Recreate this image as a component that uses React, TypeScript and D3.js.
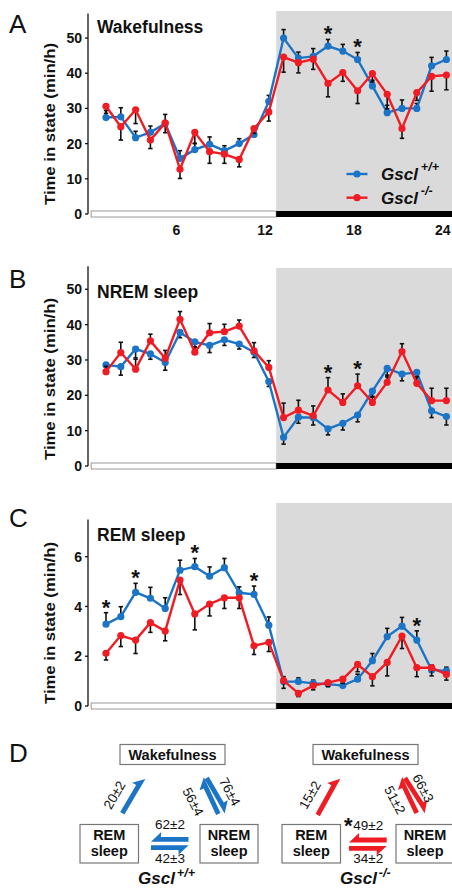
import React from 'react';
import * as d3 from 'd3';

// hour of day (ZT) for each sample
const hours = [1, 2, 3, 4, 5, 6, 7, 8, 9, 10, 11, 12, 13, 14, 15, 16, 17, 18, 19, 20, 21, 22, 23, 24];
const xTickLabels = [6, 12, 18, 24];

// A - Wakefulness (min/h)
const wakeWT = [27.4, 27.6, 21.7, 23.2, 25.7, 15.8, 18.3, 19.8, 18.0, 20.0, 22.6, 32.0, 50.0, 44.3, 44.8, 47.7, 46.3, 43.9, 36.4, 28.8, 30.0, 30.0, 42.1, 43.9];
const wakeWTErr = [2.0, 2.6, 1.8, 1.8, 2.6, 2.2, 1.7, 2.1, 1.4, 1.4, 1.2, 1.7, 2.4, 1.7, 2.2, 1.9, 1.9, 2.0, 1.6, 2.1, 2.4, 1.4, 2.4, 2.4];
const wakeKO = [30.6, 24.8, 29.6, 21.0, 25.9, 12.7, 23.2, 17.7, 17.0, 15.5, 24.3, 29.0, 44.6, 43.0, 44.0, 37.1, 40.2, 35.0, 39.9, 34.0, 24.3, 34.5, 39.1, 39.5];
const wakeKOErr = [2.0, 3.8, 3.9, 2.4, 2.8, 2.6, 3.1, 3.3, 2.6, 2.1, 1.4, 2.6, 4.3, 2.9, 2.9, 3.8, 2.5, 3.6, 2.4, 4.1, 2.8, 2.2, 4.2, 4.2];
const wakeStars = [16, 18];

// B - NREM sleep (min/h)
const nremWT = [28.6, 28.1, 33.1, 31.7, 29.3, 37.8, 35.1, 34.1, 35.7, 34.5, 32.2, 23.9, 8.1, 13.8, 13.7, 10.5, 12.1, 14.4, 21.2, 27.6, 26.0, 26.5, 15.6, 14.0];
const nremWTErr = [1.5, 2.4, 2.5, 1.5, 2.2, 1.5, 1.5, 2.0, 1.6, 1.4, 1.5, 1.4, 1.9, 1.7, 2.1, 1.7, 1.9, 1.9, 1.5, 2.4, 1.9, 1.5, 1.9, 2.4];
const nremKO = [26.7, 32.1, 27.4, 35.4, 30.5, 41.5, 32.2, 37.7, 38.0, 39.6, 32.6, 27.9, 13.7, 15.8, 14.2, 21.5, 18.0, 22.7, 18.0, 23.7, 32.4, 23.4, 18.5, 18.5];
const nremKOErr = [1.5, 2.9, 2.8, 1.9, 2.2, 2.2, 1.5, 2.6, 2.1, 1.7, 2.3, 1.9, 4.1, 2.8, 2.8, 3.5, 2.4, 3.3, 1.5, 2.0, 2.2, 1.9, 3.5, 3.5];
const nremStars = [16, 18];

// C - REM sleep (min/h)
const remWT = [3.29, 3.59, 4.57, 4.33, 3.92, 5.46, 5.60, 5.22, 5.56, 4.55, 4.49, 3.25, 0.98, 0.98, 0.91, 0.88, 0.82, 1.08, 1.82, 2.79, 3.21, 2.65, 1.45, 1.41];
const remWTErr = [0.46, 0.40, 0.36, 0.44, 0.43, 0.40, 0.33, 0.37, 0.37, 0.24, 0.33, 0.33, 0.2, 0.15, 0.13, 0.1, 0.1, 0.2, 0.29, 0.33, 0.35, 0.37, 0.2, 0.15];
const remKO = [2.12, 2.83, 2.65, 3.35, 3.01, 5.06, 3.70, 4.10, 4.35, 4.35, 2.42, 2.56, 1.02, 0.51, 0.82, 0.94, 1.08, 1.67, 1.18, 1.75, 2.81, 1.54, 1.54, 1.27];
const remKOErr = [0.27, 0.44, 0.54, 0.39, 0.39, 0.58, 0.64, 0.48, 0.43, 0.43, 0.35, 0.37, 0.31, 0.13, 0.17, 0.16, 0.17, 0.29, 0.37, 0.54, 0.50, 0.36, 0.33, 0.23];
const remStars = [1, 3, 7, 11, 22];

// D - transitions
const transWT = ['20±2', '56±4', '76±4', '62±2', '42±3'];
const transKO = ['15±2', '51±2', '66±3', '49±2', '34±2'];

const W = 452, H = 888;
const BLUE = '#1b74c6';
const RED = '#f01c24';
const FONT = 'Liberation Sans, Arial, Helvetica, sans-serif';

const x = d3.scaleLinear().domain([0, 24.5]).range([91.2, 453.8]);
const AXIS_X = 88;

const panels = [
  { letter: 'A', title: 'Wakefulness', wt: wakeWT, wtErr: wakeWTErr, ko: wakeKO, koErr: wakeKOErr, wtDir: 1, koDir: -1,
    yMax: 57, ticks: [0, 10, 20, 30, 40, 50], bottom: 214, top: 13.4, shadeTop: 11, letterY: 33, titleY: 33, labelY: 124, stars: wakeStars, legend: true },
  { letter: 'B', title: 'NREM sleep', wt: nremWT, wtErr: nremWTErr, ko: nremKO, koErr: nremKOErr, wtDir: -1, koDir: 1,
    yMax: 56.5, ticks: [0, 10, 20, 30, 40, 50], bottom: 466, top: 266.3, shadeTop: 268, letterY: 288, titleY: 298, labelY: 379, stars: nremStars, legend: false },
  { letter: 'C', title: 'REM sleep', wt: remWT, wtErr: remWTErr, ko: remKO, koErr: remKOErr, wtDir: 1, koDir: -1,
    yMax: 7.5, ticks: [0, 2, 4, 6], bottom: 706, top: 519.4, shadeTop: 503, letterY: 527, titleY: 541, labelY: 623, stars: remStars, legend: false },
];

function Series({ vals, errs, dir, color, y }: any) {
  const line = d3.line<number>().x((_, i) => x(hours[i])).y(d => y(d));
  return (
    <g>
      {vals.map((v: number, i: number) => {
        const cx = x(hours[i]);
        const ye = y(v + dir * errs[i]);
        return (
          <g key={i} stroke="#111" strokeWidth={1.6}>
            <line x1={cx} x2={cx} y1={y(v)} y2={ye} />
            <line x1={cx - 2.2} x2={cx + 2.2} y1={ye} y2={ye} />
          </g>
        );
      })}
      <path d={line(vals) || ''} fill="none" stroke={color} strokeWidth={2.4} />
      {vals.map((v: number, i: number) => (
        <circle key={i} cx={x(hours[i])} cy={y(v)} r={3.6} fill={color} />
      ))}
    </g>
  );
}

function Panel({ p }: any) {
  const y = d3.scaleLinear().domain([0, p.yMax]).range([p.bottom, p.top]);
  const x12 = x(12.5);
  return (
    <g>
      <rect x={x12} y={p.shadeTop} width={W - x12} height={p.bottom - 3 - p.shadeTop} fill="#dadada" />
      <rect x={x(0)} y={p.bottom - 3} width={x12 - x(0)} height={6} fill="#fff" stroke="#9a9a9a" strokeWidth={1} />
      <rect x={x12} y={p.bottom - 3} width={W - x12} height={6} fill="#000" />
      <line x1={AXIS_X} x2={AXIS_X} y1={y(p.yMax)} y2={p.bottom} stroke="#111" strokeWidth={1.3} />
      {p.ticks.map((t: number) => (
        <g key={t}>
          <line x1={AXIS_X - 3} x2={AXIS_X} y1={y(t)} y2={y(t)} stroke="#111" strokeWidth={1.3} />
          <text x={AXIS_X - 6} y={y(t)} dy="0.36em" textAnchor="end" fontSize={14} fontWeight="bold" fill="#111">{t}</text>
        </g>
      ))}
      <text transform={`translate(55,${p.labelY}) rotate(-90)`} textAnchor="middle" fontSize={15} fontWeight="bold" fill="#111"
        textLength={162} lengthAdjust="spacingAndGlyphs">Time in state (min/h)</text>
      <text x={9} y={p.letterY} fontSize={26} fill="#111">{p.letter}</text>
      <text x={97} y={p.titleY} fontSize={17.5} fontWeight="bold" fill="#111">{p.title}</text>
      <Series vals={p.wt} errs={p.wtErr} dir={p.wtDir} color={BLUE} y={y} />
      <Series vals={p.ko} errs={p.koErr} dir={p.koDir} color={RED} y={y} />
      {p.stars.map((h: number) => {
        const i = hours.indexOf(h);
        const topV = Math.max(p.wt[i] + (p.wtDir > 0 ? p.wtErr[i] : 0), p.ko[i] + (p.koDir > 0 ? p.koErr[i] : 0));
        return <text key={h} x={x(h)} y={y(topV) + 2} textAnchor="middle" fontSize={22} fontWeight="bold" fill="#111">*</text>;
      })}
      {p.legend && (
        <g>
          {[{ c: BLUE, sup: '+/+', ly: 174 }, { c: RED, sup: '-/-', ly: 197.7 }].map(l => (
            <g key={l.sup}>
              <line x1={346.5} x2={367.5} y1={l.ly} y2={l.ly} stroke={l.c} strokeWidth={2.4} />
              <circle cx={357} cy={l.ly} r={3.6} fill={l.c} />
              <text x={381} y={l.ly + 6} fontSize={17} fontWeight="bold" fontStyle="italic" fill="#111">
                Gscl<tspan dx={3} dy={-9} fontSize={12.5}>{l.sup}</tspan>
              </text>
            </g>
          ))}
        </g>
      )}
      {p.legend && xTickLabels.map(t => (
        <text key={t} x={x(t - 0.25)} y={235} textAnchor="middle" fontSize={14} fontWeight="bold" fill="#111">{t}</text>
      ))}
    </g>
  );
}

// harpoon-style arrow: straight edge on one side, barb on the other
function harpoon(x1: number, y1: number, x2: number, y2: number, side: number) {
  const L = Math.hypot(x2 - x1, y2 - y1);
  const ux = (x2 - x1) / L, uy = (y2 - y1) / L;
  const nx = -uy * side, ny = ux * side;
  const hw = 2.4, hl = 10, bw = 7;
  const bx = x2 - ux * hl, by = y2 - uy * hl;
  const pts = [
    [x1 + nx * hw, y1 + ny * hw],
    [bx + nx * hw, by + ny * hw],
    [bx + nx * bw, by + ny * bw],
    [x2 - nx * hw, y2 - ny * hw],
    [x1 - nx * hw, y1 - ny * hw],
  ];
  return pts.map(p => p.join(',')).join(' ');
}

function Box({ x0, y0, w, h, lines }: any) {
  return (
    <g>
      <rect x={x0} y={y0} width={w} height={h} fill="#fff" stroke="#777" strokeWidth={1.2} />
      {lines.map((t: string, i: number) => (
        <text key={t} x={x0 + w / 2} y={y0 + (lines.length === 1 ? 15 : 15 + i * 16.5)} textAnchor="middle"
          fontSize={14.5} fontWeight="bold" fill="#111">{t}</text>
      ))}
    </g>
  );
}

function Diagram({ d, labels, color, sup, star }: any) {
  const rot = (t: string, cx: number, cy: number, a: number) => (
    <text transform={`translate(${cx},${cy}) rotate(${a})`} textAnchor="middle" dy="0.35em" fontSize={13.5} fill="#111">{t}</text>
  );
  return (
    <g>
      <Box x0={d.wake[0]} y0={744.5} w={d.wake[1]} h={20} lines={['Wakefulness']} />
      <Box x0={d.rem} y0={824.5} w={58.5} h={38.5} lines={['REM', 'sleep']} />
      <Box x0={d.nrem} y0={824.5} w={58} h={38.5} lines={['NREM', 'sleep']} />
      <g fill={color}>
        <polygon points={harpoon(d.a1[0], d.a1[1], d.a1[2], d.a1[3], -1)} />
        <polygon points={harpoon(d.a2[0], d.a2[1], d.a2[2], d.a2[3], -1)} />
        <polygon points={harpoon(d.a3[0], d.a3[1], d.a3[2], d.a3[3], -1)} />
        <polygon points={harpoon(d.h1[1], d.h1[0], d.h1[2], d.h1[0], 1)} />
        <polygon points={harpoon(d.h2[1], d.h2[0], d.h2[2], d.h2[0], 1)} />
      </g>
      {rot(labels[0], d.l1[0], d.l1[1], -60)}
      {rot(labels[1], d.l2[0], d.l2[1], 62)}
      {rot(labels[2], d.l3[0], d.l3[1], 62)}
      <text x={d.hx} y={d.h1[0] - 10.5} textAnchor="middle" fontSize={13.5} fill="#111">{labels[3]}</text>
      <text x={d.hx} y={d.h2[0] + 15} textAnchor="middle" fontSize={13.5} fill="#111">{labels[4]}</text>
      {star && <text x={d.hx - 20} y={833} textAnchor="middle" fontSize={22} fontWeight="bold" fill="#111">*</text>}
      <text x={d.gx} y={884} fontSize={17} fontWeight="bold" fontStyle="italic" fill="#111">
        Gscl<tspan dx={2} dy={-7.5} fontSize={12.5}>{sup}</tspan>
      </text>
    </g>
  );
}

const leftD = {
  wake: [120, 105], rem: 80, nrem: 200,
  a1: [122.3, 813.3, 143.3, 777.7], a2: [218.3, 814, 201.7, 778.3], a3: [206.7, 778, 226.7, 812.3],
  h1: [839.3, 188.5, 151], h2: [847.7, 151, 188.5], hx: 170,
  l1: [114.3, 795], l2: [193.3, 801.7], l3: [230, 791.7], gx: 138,
};
const rightD = {
  wake: [313, 105], rem: 282, nrem: 396,
  a1: [317.7, 815, 338.3, 777.7], a2: [416.7, 813, 400, 778], a3: [405, 778, 426.7, 812],
  h1: [840, 386.7, 349], h2: [848.3, 349, 386.7], hx: 368.3,
  l1: [310, 795], l2: [395, 800], l3: [423.3, 788.3], gx: 340,
};

export default function App() {
  return (
    <svg width={W} height={H} style={{ position: 'absolute', left: 0, top: 0, background: '#fff' }} fontFamily={FONT}>
      <rect width={W} height={H} fill="#fff" />
      {panels.map(p => <Panel key={p.letter} p={p} />)}
      <text x={9} y={762} fontSize={26} fill="#111">D</text>
      <Diagram d={leftD} labels={transWT} color={BLUE} sup="+/+" star={false} />
      <Diagram d={rightD} labels={transKO} color={RED} sup="-/-" star={true} />
    </svg>
  );
}
